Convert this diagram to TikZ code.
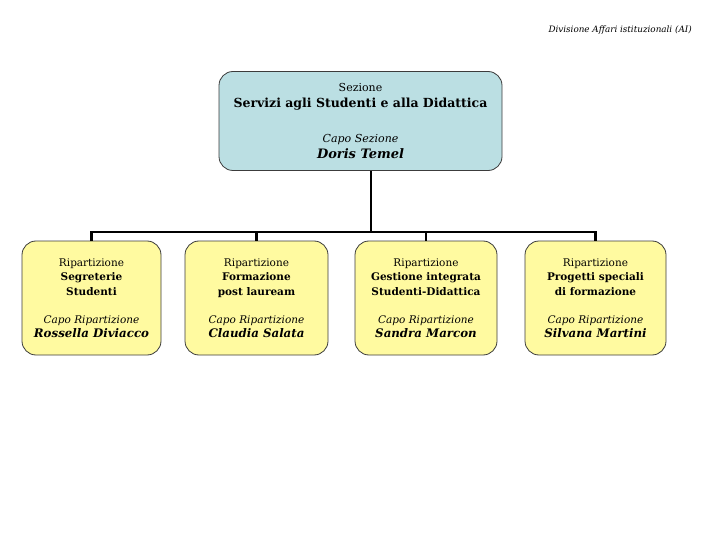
\documentclass[tikz,border=0pt]{standalone}
\usepackage{fontspec}
\setmainfont{DejaVu Serif}
\usepackage{tikz}
\usetikzlibrary{positioning}

\definecolor{sezfill}{RGB}{187,223,227}
\definecolor{ripfill}{RGB}{255,250,160}
\definecolor{boxline}{RGB}{60,60,60}

\newcommand{\capo}[1]{{\fontsize{11.8}{14.5}\selectfont\bfseries\itshape #1}}

\tikzset{
    sezbox/.style={draw=boxline, fill=sezfill, rounded corners=14pt, line width=0.8pt,
        minimum width=283pt, minimum height=99pt, align=center, inner sep=0pt,
        font=\fontsize{11}{16.5}\selectfont},
    ripbox/.style={draw=boxline, fill=ripfill, rounded corners=14pt, line width=0.8pt,
        minimum height=114pt, align=center, inner sep=0pt,
        font=\fontsize{10.5}{14.5}\selectfont},
    link/.style={line width=2.6pt}
}

\begin{document}
\begin{tikzpicture}[x=1pt, y=-1pt]
        \useasboundingbox (0,0) rectangle (720,540);
        \node[anchor=east, inner sep=0pt, font=\fontsize{8.8}{11}\selectfont\itshape] (div) at (692,30) {Divisione Affari istituzionali (AI)};
        % sezione
        \node[sezbox] (sez) at (360.5,121) {Sezione\\
            \fontsize{12.5}{16.5}\selectfont\bfseries Servizi agli Studenti e alla Didattica\\[18pt]
            \itshape Capo Sezione\\
            \fontsize{13}{16.5}\selectfont\bfseries\itshape Doris Temel};
        % ripartizioni
        \node[ripbox, minimum width=139pt] (segr) at (91.5,298) {Ripartizione\\
            \bfseries Segreterie\\ \bfseries Studenti\\[13.5pt]
            \itshape Capo Ripartizione\\ \capo{Rossella Diviacco}};
        \node[ripbox, minimum width=143pt] (form) at (256.5,298) {Ripartizione\\
            \bfseries Formazione\\ \bfseries post lauream\\[13.5pt]
            \itshape Capo Ripartizione\\ \capo{Claudia Salata}};
        \node[ripbox, minimum width=142pt] (gest) at (426,298) {Ripartizione\\
            \bfseries Gestione integrata\\ \bfseries Studenti-Didattica\\[13.5pt]
            \itshape Capo Ripartizione\\ \capo{Sandra Marcon}};
        \node[ripbox, minimum width=141pt] (prog) at (595.5,298) {Ripartizione\\
            \bfseries Progetti speciali\\ \bfseries di formazione\\[13.5pt]
            \itshape Capo Ripartizione\\ \capo{Silvana Martini}};
        % collegamenti
        \coordinate (hub) at (371,232);
        \draw[link] (sez.south -| hub) -- (hub);
        \draw[link] (segr.north) |- (hub) -| (prog.north);
        \draw[link] (form.north) -- (form.north |- hub);
        \draw[link] (gest.north) -- (gest.north |- hub);
    \end{tikzpicture}
\end{document}
